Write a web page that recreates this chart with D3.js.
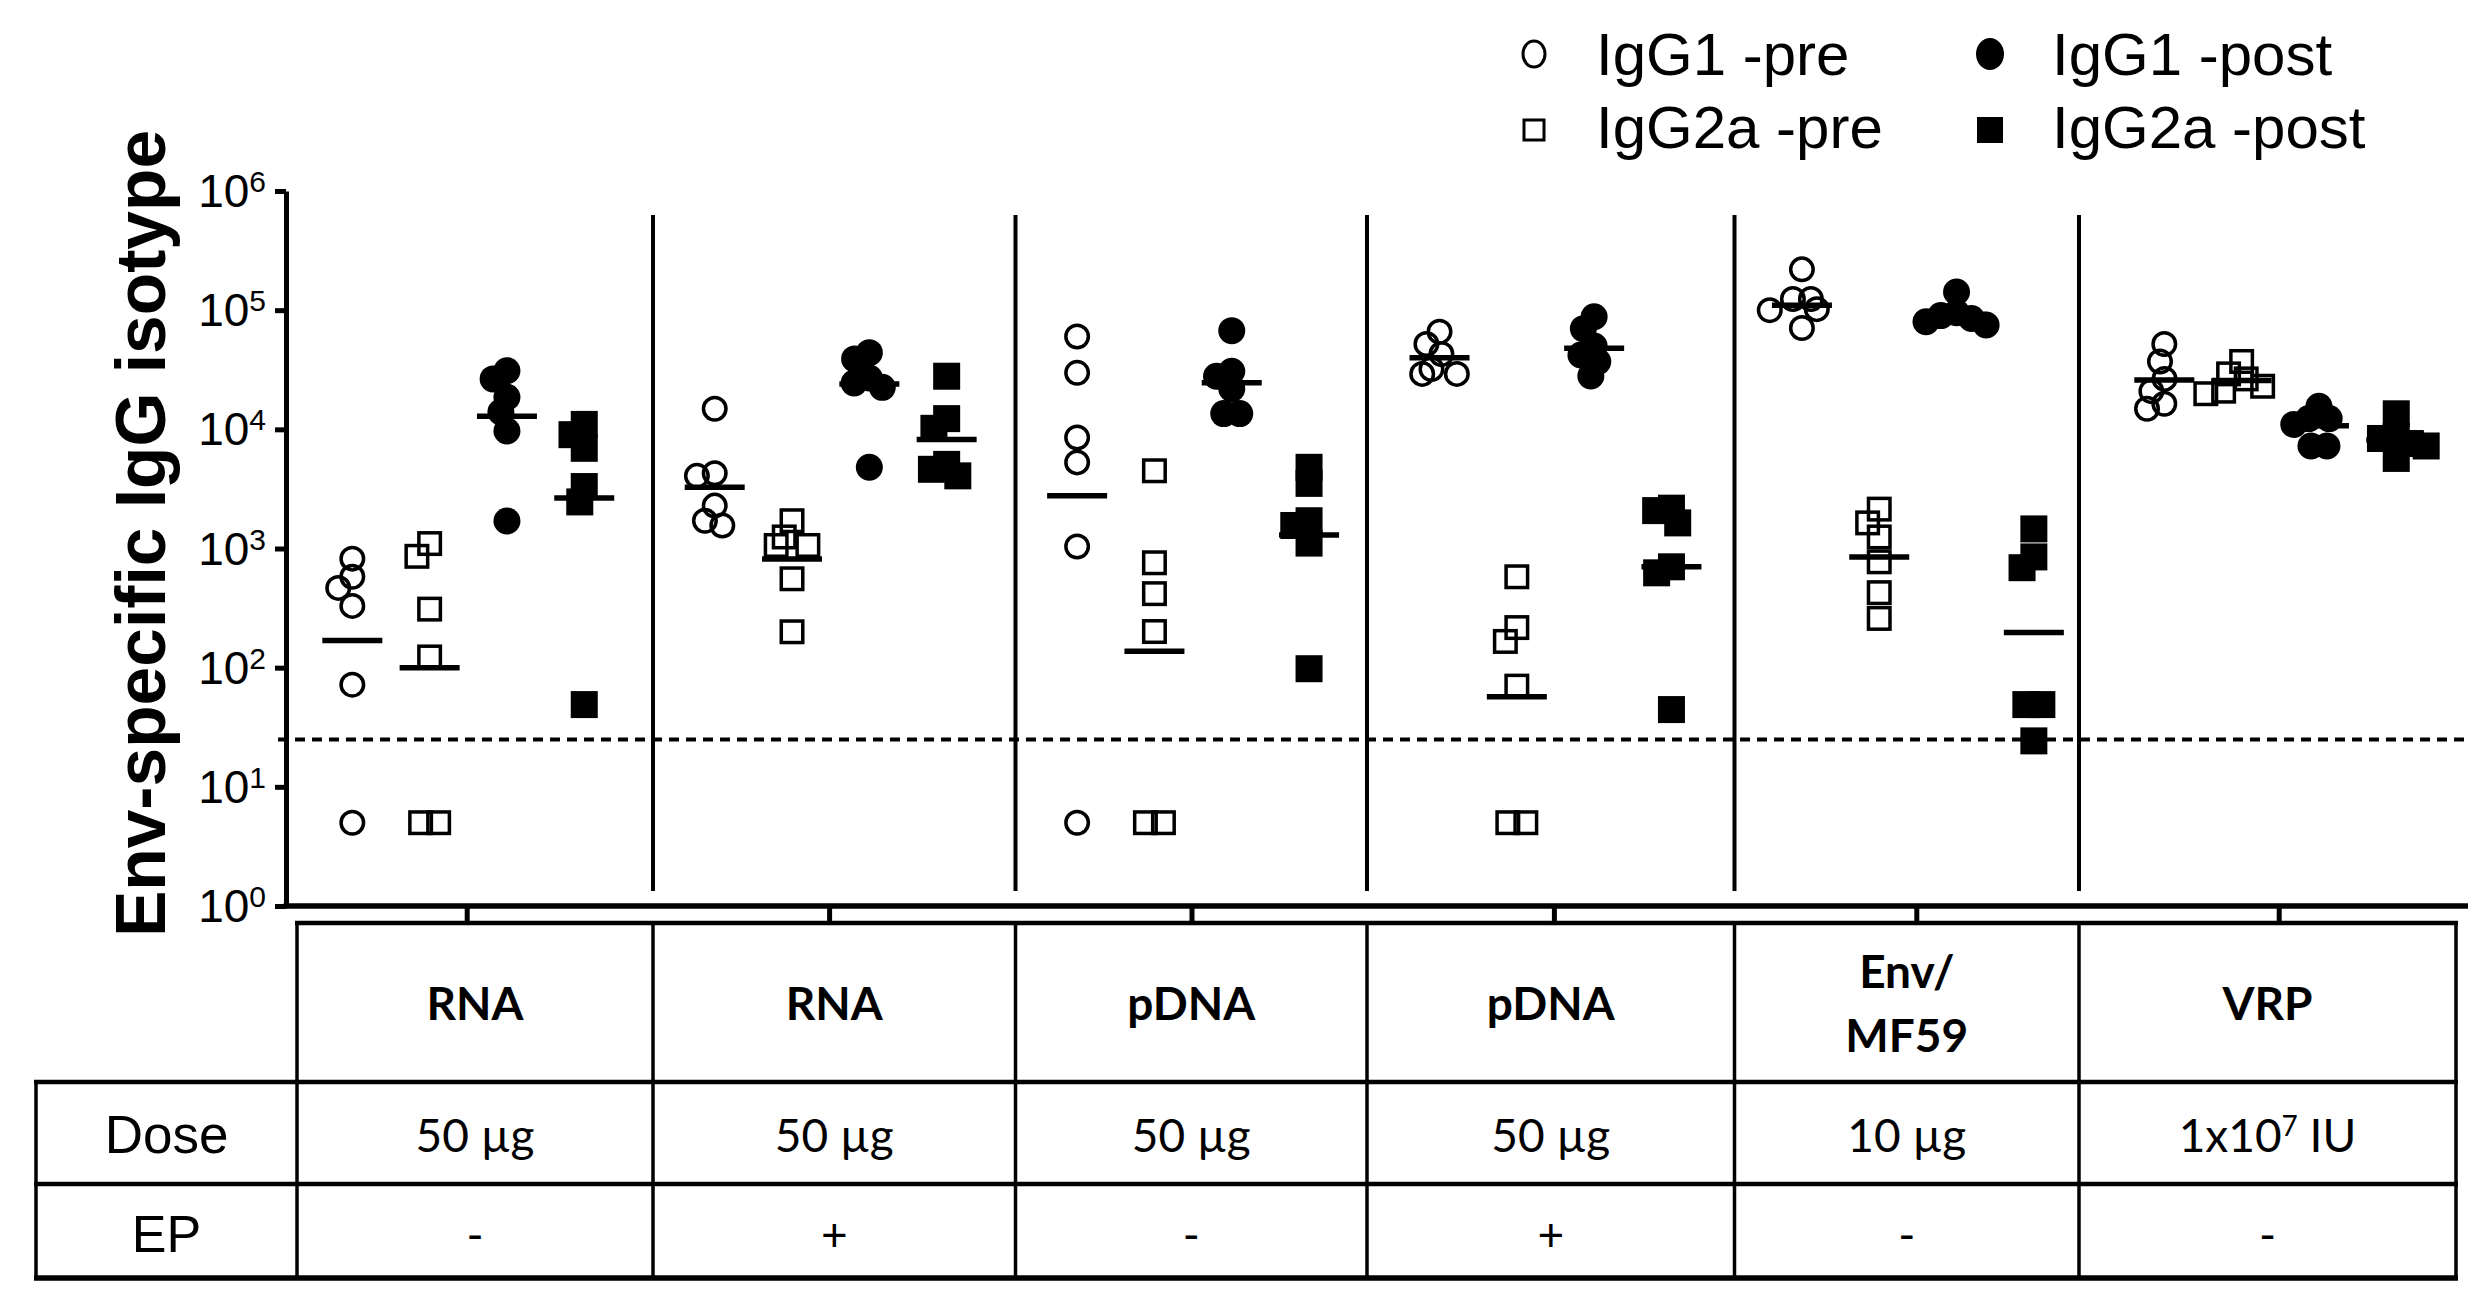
<!DOCTYPE html>
<html><head><meta charset="utf-8">
<script src="https://cdn.jsdelivr.net/npm/d3@7"></script>
<style>body{margin:0;background:#fff}svg{display:block}</style>
</head><body>
<svg id="chart" width="2481" height="1315"></svg>
<script>
// ---------------- DATA ----------------
const groups   = ["RNA -EP","RNA +EP","pDNA -EP","pDNA +EP","Env/MF59","VRP"];
const vaccine  = [["RNA"],["RNA"],["pDNA"],["pDNA"],["Env/","MF59"],["VRP"]];
const doseMain = ["50 µg","50 µg","50 µg","50 µg","10 µg","1x10"];
const doseSup  = ["","","","","","7"];
const doseTail = ["","","","",""," IU"];
const epMark   = ["-","+","-","+","-","-"];
const series   = ["IgG1 -pre","IgG2a -pre","IgG1 -post","IgG2a -post"];
const yTicks   = [1,10,100,1000,10000,100000,1000000];
const yTickExp = ["0","1","2","3","4","5","6"];
const lod = 25;

const igg1Pre = [
  [822,580,467,330,72,5],
  [14900,4280,4070,2290,1710,1560],
  [60100,29800,8530,5280,1040,5],
  [66000,52000,42900,32100,29200,29200],
  [220000,124000,124000,102000,100000,70800],
  [52000,37100,26500,20900,16400,14900]];
const igg2aPre = [
  [1100,860,310,123,5,5],
  [1710,1250,1060,1060,557,200],
  [4490,759,418,201,5,5],
  [579,217,166,70,5,5],
  [2140,1640,1250,773,426,259],
  [37100,29200,26500,23000,20900,19900]];
const igg1Post = [
  [31000,26500,18600,13970,9670,1700],
  [44000,39000,27000,24500,22500,4800],
  [67300,30700,27900,21900,13550,13550],
  [88000,70000,50000,42000,37000,28000],
  [142000,95000,90000,85000,80000,75000],
  [15600,12300,12300,11000,7250,7250]];
const igg2aPost = [
  [11000,9020,6930,3310,2460,49],
  [27900,12300,10200,5080,4620,4070],
  [4800,3520,1710,1560,1110,98],
  [2180,2080,1640,702,625,44.5],
  [1460,850,690,49,49,24.3],
  [13500,8790,8380,7600,7250,5700]];
// group means (horizontal bars)
const igg1PreMean   = [169,3270,2770,39800,110000,26000];
const igg2aPreMean  = [100,817,137,57,850,25700];
const igg1PostMean  = [12900,24000,24600,48000,92000,10700];
const igg2aPostMean = [2650,8220,1300,702,197,8130];

const seriesValues = [igg1Pre, igg2aPre, igg1Post, igg2aPost];
const seriesMeans  = [igg1PreMean, igg2aPreMean, igg1PostMean, igg2aPostMean];

// ---------------- LAYOUT ----------------
const svg = d3.select("#chart");
const AR = "'Liberation Sans', Arial, sans-serif";
const CAL = "Lato, 'Open Sans', sans-serif";
const plotLeft = 286, plotRight = 2468, yTop = 191, yBottom = 906;
const bandW = 362.4;
const x = d3.scaleBand().domain(groups).range([plotLeft, plotLeft + bandW * groups.length]);
const sx = d3.scalePoint().domain(series).range([0.183 * bandW, 0.823 * bandW]);
const y = d3.scaleLog().domain([1, 1e6]).range([yBottom, yTop]);
// column edges of the table (also the plot dividers)
const colEdges = [297, 653, 1015.5, 1367, 1734.5, 2079, 2456];

// dashed LOD line
svg.append("line").attr("x1", plotLeft - 8).attr("x2", plotRight - 4)
  .attr("y1", y(lod)).attr("y2", y(lod))
  .attr("stroke", "#000").attr("stroke-width", 4).attr("stroke-dasharray", "10,7");

// dividers
colEdges.slice(1, -1).forEach(cx => {
  svg.append("line").attr("x1", cx).attr("x2", cx).attr("y1", 215).attr("y2", 891)
    .attr("stroke", "#000").attr("stroke-width", 4);
});

// Y axis
const yAxis = svg.append("g").attr("transform", `translate(${plotLeft},0)`)
  .call(d3.axisLeft(y).tickValues(yTicks).tickSize(11).tickSizeOuter(0).tickFormat(""));
yAxis.selectAll("path,line").attr("stroke", "#000").attr("stroke-width", 5);
yTicks.forEach((v, i) => {
  const t = svg.append("text").attr("x", 266).attr("y", y(v) + 16)
    .attr("text-anchor", "end").attr("font-family", AR).attr("font-size", 46).attr("fill", "#000");
  t.append("tspan").text("10");
  t.append("tspan").attr("font-size", 30).attr("dy", -15).text(yTickExp[i]);
});
svg.append("text").attr("transform", `translate(165,${533.5}) rotate(-90)`)
  .attr("text-anchor", "middle").attr("font-family", AR).attr("font-weight", "bold")
  .attr("font-size", 69.5).attr("fill", "#000").text("Env-specific IgG isotype");

// X axis (ticks only)
const xAxis = svg.append("g").attr("transform", `translate(0,${yBottom})`)
  .call(d3.axisBottom(x).tickSize(15).tickSizeOuter(0).tickFormat(""));
xAxis.select(".domain").remove();
xAxis.selectAll("line").attr("stroke", "#000").attr("stroke-width", 5);
svg.append("line").attr("x1", plotLeft - 2.5).attr("x2", plotRight).attr("y1", yBottom).attr("y2", yBottom)
  .attr("stroke", "#000").attr("stroke-width", 5.5);

// ---------------- MARKERS ----------------
const style = [
  {shape: "circle", filled: false, size: 22.5, D: 18},
  {shape: "square", filled: false, size: 21.5, D: 18},
  {shape: "circle", filled: true, size: 27, D: 16},
  {shape: "square", filled: true, size: 27, D: 16}];

function swarm(values, D) {
  const order = values.map((v, i) => i).sort((a, b) => values[b] - values[a]);
  const placed = [], xs = new Array(values.length);
  for (const i of order) {
    const yi = y(values[i]);
    const cands = [0];
    for (const p of placed) {
      const dy = Math.abs(p.y - yi);
      if (dy < D) { const dx = Math.sqrt(D * D - dy * dy); cands.push(p.x + dx, p.x - dx); }
    }
    cands.sort((a, b) => Math.abs(a) - Math.abs(b) || a - b);
    let chosen = 0;
    for (const c of cands) {
      if (placed.every(p => Math.hypot(p.x - c, p.y - yi) >= D - 0.01)) { chosen = c; break; }
    }
    placed.push({x: chosen, y: yi}); xs[i] = chosen;
  }
  // centre runs of identical values side by side
  const ties = d3.group(values.map((v, i) => i), i => values[i]);
  for (const idx of ties.values()) {
    if (idx.length > 1) { const m = d3.mean(idx, i => xs[i]); idx.forEach(i => { xs[i] -= m; }); }
  }
  return xs;
}

function drawMarker(g, st, cx, cy) {
  if (st.shape === "circle") {
    g.append("circle").attr("cx", cx).attr("cy", cy).attr("r", st.size / 2)
      .attr("fill", st.filled ? "#000" : "none").attr("stroke", "#000")
      .attr("stroke-width", st.filled ? 0 : 3.5);
  } else {
    g.append("rect").attr("x", cx - st.size / 2).attr("y", cy - st.size / 2)
      .attr("width", st.size).attr("height", st.size)
      .attr("fill", st.filled ? "#000" : "none").attr("stroke", "#000")
      .attr("stroke-width", st.filled ? 0 : 3.5);
  }
}

const markG = svg.append("g");
groups.forEach((grp, gi) => {
  series.forEach((s, si) => {
    const vals = seriesValues[si][gi];
    const st = style[si];
    const cx0 = x(grp) + sx(s);
    const xs = swarm(vals, st.D);
    vals.forEach((v, i) => drawMarker(markG, st, cx0 + xs[i], y(v)));
    markG.append("line").attr("x1", cx0 - 30).attr("x2", cx0 + 30)
      .attr("y1", y(seriesMeans[si][gi])).attr("y2", y(seriesMeans[si][gi]))
      .attr("stroke", "#000").attr("stroke-width", 5.5);
  });
});

// ---------------- LEGEND ----------------
const legPos = [[1534, 54, 1596, 75], [1534, 130, 1596, 148], [1990, 54, 2052, 75], [1990, 130, 2052, 148]];
const legStyle = [
  {shape: "circle", filled: false, size: 22},
  {shape: "square", filled: false, size: 20},
  {shape: "circle", filled: true, size: 28},
  {shape: "square", filled: true, size: 26}];
series.forEach((s, i) => {
  const p = legPos[i];
  const st = legStyle[i];
  if (st.shape === "circle") {
    svg.append("ellipse").attr("cx", p[0]).attr("cy", p[1]).attr("rx", st.size / 2).attr("ry", st.size / 2 + 2)
      .attr("fill", st.filled ? "#000" : "none").attr("stroke", "#000").attr("stroke-width", st.filled ? 0 : 3);
  } else {
    svg.append("rect").attr("x", p[0] - st.size / 2).attr("y", p[1] - st.size / 2)
      .attr("width", st.size).attr("height", st.size)
      .attr("fill", st.filled ? "#000" : "none").attr("stroke", "#000").attr("stroke-width", st.filled ? 0 : 3);
  }
  svg.append("text").attr("x", p[2]).attr("y", p[3]).attr("font-family", AR)
    .attr("font-size", 60).attr("fill", "#000").text(s);
});

// ---------------- TABLE ----------------
const tTop = 923, tHead = 1082, tDose = 1184, tEP = 1278, tLeft = 36;
const tg = svg.append("g").attr("stroke", "#000");
tg.append("line").attr("x1", colEdges[0] - 2).attr("x2", colEdges[6] + 2).attr("y1", tTop).attr("y2", tTop).attr("stroke-width", 4.5);
[tHead, tDose].forEach(yy => tg.append("line").attr("x1", tLeft - 2).attr("x2", colEdges[6] + 2)
  .attr("y1", yy).attr("y2", yy).attr("stroke-width", 4.5));
tg.append("line").attr("x1", tLeft - 2).attr("x2", colEdges[6] + 2).attr("y1", tEP).attr("y2", tEP).attr("stroke-width", 5.5);
colEdges.forEach(cx => tg.append("line").attr("x1", cx).attr("x2", cx).attr("y1", tTop).attr("y2", tEP).attr("stroke-width", 3.5));
tg.append("line").attr("x1", tLeft).attr("x2", tLeft).attr("y1", tHead).attr("y2", tEP).attr("stroke-width", 3.5);

svg.append("text").attr("x", (tLeft + colEdges[0]) / 2).attr("y", 1153).attr("text-anchor", "middle")
  .attr("font-family", AR).attr("font-size", 53).text("Dose");
svg.append("text").attr("x", (tLeft + colEdges[0]) / 2).attr("y", 1252).attr("text-anchor", "middle")
  .attr("font-family", AR).attr("font-size", 52).text("EP");

groups.forEach((grp, gi) => {
  const cx = (colEdges[gi] + colEdges[gi + 1]) / 2;
  const lines = vaccine[gi];
  const base = lines.length === 1 ? [1020] : [988, 1052];
  lines.forEach((ln, li) => svg.append("text").attr("x", cx).attr("y", base[li])
    .attr("text-anchor", "middle").attr("font-family", CAL).attr("font-weight", "bold")
    .attr("font-size", 46).text(ln));
  const dt = svg.append("text").attr("x", cx).attr("y", 1152).attr("text-anchor", "middle")
    .attr("font-family", CAL).attr("font-size", 46);
  dt.append("tspan").text(doseMain[gi]);
  if (doseSup[gi]) {
    dt.append("tspan").attr("font-size", 28).attr("dy", -16).text(doseSup[gi]);
    dt.append("tspan").attr("dy", 16).text(doseTail[gi]);
  }
  svg.append("text").attr("x", cx).attr("y", 1251).attr("text-anchor", "middle")
    .attr("font-family", CAL).attr("font-size", 46).text(epMark[gi]);
});
</script>
</body></html>
